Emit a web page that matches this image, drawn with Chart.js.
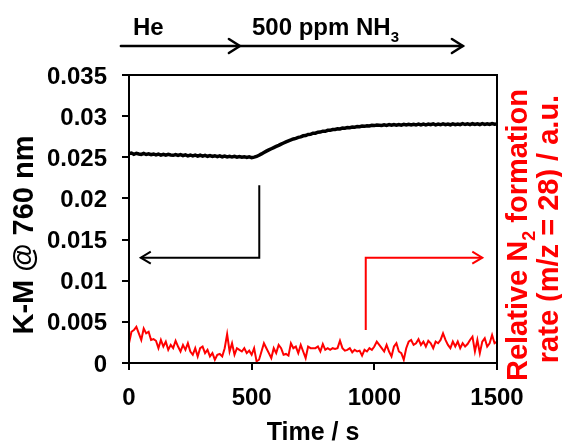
<!DOCTYPE html>
<html>
<head>
<meta charset="utf-8">
<script src="https://cdn.jsdelivr.net/npm/chart.js@4.4.1/dist/chart.umd.min.js"></script>
<style>
  html, body { margin: 0; padding: 0; background: #fff; }
  #wrap { width: 562px; height: 446px; position: relative; }
</style>
</head>
<body>
<div id="wrap"><canvas id="chart" width="562" height="446"></canvas></div>
<script>
// sampling interval of both traces, s
const timeStep = 10;

// K-M @ 760 nm, one value every 10 s from 0 to 1500 s
const kmValues = [
  0.02545, 0.02552, 0.02536, 0.02549, 0.02540, 0.02535, 0.02547, 0.02534, 0.02542, 0.02531,
  0.02540, 0.02528, 0.02538, 0.02527, 0.02536, 0.02525, 0.02535, 0.02528, 0.02524, 0.02534,
  0.02523, 0.02533, 0.02520, 0.02530, 0.02518, 0.02528, 0.02517, 0.02526, 0.02515, 0.02525,
  0.02514, 0.02523, 0.02512, 0.02521, 0.02510, 0.02519, 0.02508, 0.02517, 0.02506, 0.02515,
  0.02505, 0.02513, 0.02503, 0.02511, 0.02501, 0.02509, 0.02500, 0.02507, 0.02497, 0.02505,
  0.02496, 0.02502, 0.02510, 0.02525, 0.02541, 0.02558, 0.02575, 0.02590, 0.02604, 0.02618,
  0.02632, 0.02645, 0.02660, 0.02674, 0.02688, 0.02700, 0.02711, 0.02723, 0.02730, 0.02742,
  0.02748, 0.02761, 0.02764, 0.02777, 0.02779, 0.02792, 0.02793, 0.02805, 0.02806, 0.02817,
  0.02816, 0.02828, 0.02828, 0.02838, 0.02838, 0.02847, 0.02845, 0.02855, 0.02853, 0.02862,
  0.02860, 0.02868, 0.02866, 0.02874, 0.02871, 0.02879, 0.02876, 0.02884, 0.02880, 0.02888,
  0.02885, 0.02891, 0.02889, 0.02886, 0.02895, 0.02888, 0.02897, 0.02889, 0.02898, 0.02890,
  0.02899, 0.02891, 0.02900, 0.02892, 0.02901, 0.02893, 0.02902, 0.02894, 0.02903, 0.02893,
  0.02903, 0.02894, 0.02904, 0.02895, 0.02905, 0.02894, 0.02903, 0.02895, 0.02906, 0.02896,
  0.02904, 0.02895, 0.02907, 0.02897, 0.02905, 0.02896, 0.02908, 0.02898, 0.02906, 0.02897,
  0.02908, 0.02899, 0.02907, 0.02898, 0.02909, 0.02900, 0.02908, 0.02899, 0.02910, 0.02901,
  0.02905
];

// relative N2 formation rate (m/z = 28), same time grid, drawn on the left scale
const n2Values = [
  0.0024, 0.0038, 0.0040, 0.0044, 0.0036, 0.0028, 0.0042, 0.0036, 0.0038, 0.0028,
  0.0029, 0.0027, 0.0018, 0.0028, 0.0020, 0.0026, 0.0016, 0.0022, 0.0018, 0.0027,
  0.0020, 0.0014, 0.0022, 0.0016, 0.0024, 0.0014, 0.0010, 0.0018, 0.0008, 0.0018,
  0.0020, 0.0012, 0.0016, 0.0008, 0.0012, 0.0004, 0.0010, 0.0011, 0.0008, 0.0018,
  0.0035, 0.0014, 0.0024, 0.0010, 0.0018, 0.0016, 0.0014, 0.0018, 0.0012, 0.0015,
  0.0010, 0.0018, 0.0002, 0.0004, 0.0014, 0.0024, 0.0018, 0.0012, 0.0006, 0.0018,
  0.0012, 0.0022, 0.0018, 0.0010, 0.0011, 0.0009, 0.0024, 0.0018, 0.0020, 0.0012,
  0.0022, 0.0014, 0.0006, 0.0020, 0.0018, 0.0018,
  0.0018, 0.0020, 0.0014, 0.0023, 0.0016, 0.0018, 0.0016, 0.0018, 0.0017, 0.0018,
  0.0027, 0.0018, 0.0015, 0.0016, 0.0018, 0.0013, 0.0016, 0.0014, 0.0015, 0.0009,
  0.0016, 0.0014, 0.0018, 0.0016, 0.0020, 0.0026, 0.0022, 0.0018, 0.0014, 0.0022,
  0.0014, 0.0008, 0.0020, 0.0024, 0.0014, 0.0012, 0.0004, 0.0018, 0.0026, 0.0028,
  0.0022, 0.0024, 0.0029, 0.0022, 0.0026, 0.0020, 0.0027, 0.0024, 0.0018, 0.0026,
  0.0024, 0.0028, 0.0036, 0.0028, 0.0022, 0.0018, 0.0026, 0.0020, 0.0026, 0.0018,
  0.0024, 0.0020, 0.0023, 0.0028, 0.0032, 0.0014, 0.0028, 0.0012, 0.0026, 0.0030,
  0.0020, 0.0024, 0.0034, 0.0024, 0.0026
];

const xTickValues = [0, 500, 1000, 1500];
const yTickValues = [0, 0.005, 0.01, 0.015, 0.02, 0.025, 0.03, 0.035];

const FONT = "'Liberation Sans', Arial, sans-serif";
const RED = '#ff0000';

const toPoints = (vals) => vals.map((v, i) => ({ x: i * timeStep, y: v }));

function head(ctx, x, y, dir, len, half) {
  ctx.beginPath();
  ctx.moveTo(x - dir * len, y - half);
  ctx.lineTo(x, y);
  ctx.lineTo(x - dir * len, y + half);
  ctx.stroke();
}

// text with a subscript piece: parts = [[text, isSub], ...]
function richText(ctx, parts, x, y, size, align) {
  const widths = parts.map(([t, sub]) => {
    ctx.font = `bold ${sub ? Math.round(size * 0.62) : size}px ${FONT}`;
    return ctx.measureText(t).width;
  });
  const total = widths.reduce((a, b) => a + b, 0);
  let cx = align === 'center' ? x - total / 2 : x;
  ctx.textAlign = 'left';
  ctx.textBaseline = 'alphabetic';
  parts.forEach(([t, sub], i) => {
    ctx.font = `bold ${sub ? Math.round(size * 0.62) : size}px ${FONT}`;
    ctx.fillText(t, cx, sub ? y + size * 0.28 : y);
    cx += widths[i];
  });
}

const decorations = {
  id: 'decorations',
  afterDraw(chart) {
    const { ctx, chartArea: a, scales: { x, y } } = chart;
    ctx.save();

    // frame
    ctx.strokeStyle = '#000';
    ctx.lineWidth = 2;
    ctx.strokeRect(a.left, a.top, a.right - a.left, a.bottom - a.top);

    // gas phase arrows at the top
    ctx.lineWidth = 2.5;
    ctx.lineCap = 'round';
    const ya = 46;
    const x0 = x.getPixelForValue(-33), x1 = x.getPixelForValue(452), x2 = x.getPixelForValue(1361);
    ctx.beginPath(); ctx.moveTo(x0, ya); ctx.lineTo(x2, ya); ctx.stroke();
    head(ctx, x1, ya, 1, 11, 7);
    head(ctx, x2, ya, 1, 11, 7);
    ctx.fillStyle = '#000';
    richText(ctx, [['He', false]], 133, 35, 24, 'left');
    richText(ctx, [['500 ppm NH', false], ['3', true]], 252, 35, 24, 'left');

    // black arrow -> left axis
    ctx.lineWidth = 2;
    ctx.lineCap = 'butt';
    const bx = x.getPixelForValue(531), by = y.getPixelForValue(0.0128);
    ctx.beginPath();
    ctx.moveTo(bx, y.getPixelForValue(0.0216));
    ctx.lineTo(bx, by);
    ctx.lineTo(x.getPixelForValue(48), by);
    ctx.stroke();
    head(ctx, x.getPixelForValue(48), by, -1, 10, 6);

    // red arrow -> right axis
    ctx.strokeStyle = RED;
    const rx = x.getPixelForValue(965);
    ctx.beginPath();
    ctx.moveTo(rx, y.getPixelForValue(0.0040));
    ctx.lineTo(rx, by);
    ctx.lineTo(x.getPixelForValue(1440), by);
    ctx.stroke();
    head(ctx, x.getPixelForValue(1440), by, 1, 10, 6);

    // axis titles
    ctx.fillStyle = '#000';
    ctx.font = `bold 25px ${FONT}`;
    ctx.textAlign = 'center';
    ctx.textBaseline = 'middle';
    ctx.fillText('Time / s', (a.left + a.right) / 2, 433);

    ctx.save();
    ctx.translate(33, 235);
    ctx.rotate(-Math.PI / 2);
    ctx.font = `bold 29px ${FONT}`;
    ctx.textBaseline = 'alphabetic';
    ctx.fillText('K-M @ 760 nm', 0, 0);
    ctx.restore();

    ctx.save();
    ctx.fillStyle = RED;
    ctx.translate(527, 235);
    ctx.rotate(-Math.PI / 2);
    richText(ctx, [['Relative N', false], ['2', true], [' formation', false]], 0, 0, 29, 'center');
    ctx.restore();
    ctx.save();
    ctx.fillStyle = RED;
    ctx.translate(558, 229);
    ctx.rotate(-Math.PI / 2);
    richText(ctx, [['rate (m/z = 28) / a.u.', false]], 0, 0, 29, 'center');
    ctx.restore();

    ctx.restore();
  }
};

new Chart(document.getElementById('chart'), {
  type: 'line',
  data: {
    datasets: [
      {
        label: 'K-M @ 760 nm',
        data: toPoints(kmValues),
        borderColor: '#000',
        borderWidth: 3.5,
        pointRadius: 0,
        tension: 0
      },
      {
        label: 'N2 formation rate',
        data: toPoints(n2Values),
        borderColor: RED,
        borderWidth: 2,
        pointRadius: 0,
        tension: 0
      }
    ]
  },
  options: {
    responsive: false,
    animation: false,
    devicePixelRatio: 1,
    layout: { padding: { top: 75, left: 0, right: 0, bottom: 0 } },
    plugins: { legend: { display: false }, tooltip: { enabled: false } },
    scales: {
      x: {
        type: 'linear',
        min: 0,
        max: 1500,
        afterBuildTicks: (s) => { s.ticks = xTickValues.map((v) => ({ value: v })); },
        afterFit: (s) => { s.height = 83; },
        border: { display: false },
        grid: { drawOnChartArea: false, tickLength: 7, color: '#000', lineWidth: 2 },
        ticks: {
          color: '#000',
          padding: 14,
          maxRotation: 0,
          font: { family: FONT, size: 24, weight: 'bold' },
          callback: (v) => String(v)
        }
      },
      y: {
        min: 0,
        max: 0.035,
        afterBuildTicks: (s) => { s.ticks = yTickValues.map((v) => ({ value: v })); },
        afterFit: (s) => { s.width = 129; },
        border: { display: false },
        grid: { drawOnChartArea: false, tickLength: 7, color: '#000', lineWidth: 2 },
        ticks: {
          color: '#000',
          padding: 15,
          labelOffset: 2,
          font: { family: FONT, size: 24, weight: 'bold' },
          callback: (v) => String(Number(v.toFixed(3)))
        }
      },
      y2: {
        position: 'right',
        min: 0,
        max: 0.035,
        afterFit: (s) => { s.width = 65; },
        border: { display: false },
        grid: { display: false },
        ticks: { display: false }
      }
    }
  },
  plugins: [decorations]
});
</script>
</body>
</html>
